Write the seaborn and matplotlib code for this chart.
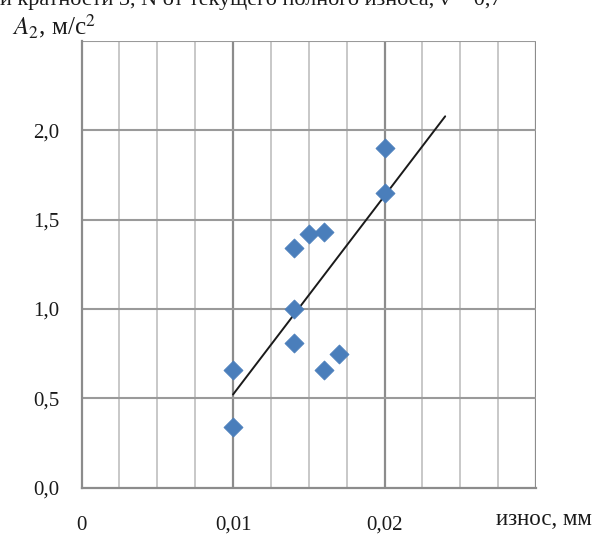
import numpy as np
import pandas as pd
import matplotlib
matplotlib.use("Agg")
import matplotlib.pyplot as plt
import seaborn as sns

# Measured wear (mm) and vibration acceleration amplitude A2 (m/s^2)
wear_mm = [0.010, 0.010, 0.014, 0.014, 0.014, 0.015, 0.016, 0.016, 0.017, 0.020, 0.020]
accel_a2 = [0.66, 0.34, 1.34, 1.00, 0.81, 1.42, 1.43, 0.66, 0.75, 1.90, 1.65]

x_ticks = [0.0, 0.01, 0.02, 0.03]
x_tick_labels = ["0", "0,01", "0,02", ""]
y_ticks = [0.0, 0.5, 1.0, 1.5, 2.0, 2.5]
y_tick_labels = ["0,0", "0,5", "1,0", "1,5", "2,0", ""]
trend_x_end = 0.024  # linear trend extended forward

df = pd.DataFrame({"wear": wear_mm, "a2": accel_a2})

sns.set_theme(style="white")
plt.rcParams["font.family"] = ["Liberation Serif", "DejaVu Serif"]

fig = plt.figure(figsize=(5.95, 5.36), dpi=100)
ax = fig.add_axes([0.137, 0.09, 0.764, 0.834])

ax.set_xlim(0, 0.03)
ax.set_ylim(0, 2.5)

# grid: minor verticals every 0.0025, major at 0.01
for xv in np.arange(0.0025, 0.0301, 0.0025):
    major = abs(xv / 0.01 - round(xv / 0.01)) < 1e-6
    ax.axvline(xv, color="#8c8c8c" if major else "#c4c4c4",
               lw=1.6 if major else 1.3, zorder=0)
for yv in y_ticks[1:]:
    ax.axhline(yv, color="#9a9a9a", lw=1.5, zorder=0)

# linear trend fitted to the data
k, b = np.polyfit(df["wear"], df["a2"], 1)
tx = np.array([min(wear_mm), trend_x_end])
sns.lineplot(x=tx, y=k * tx + b, ax=ax, color="#1a1a1a", lw=1.4, zorder=3)

sns.scatterplot(data=df, x="wear", y="a2", ax=ax, marker="D", s=95,
                color="#4a7ebb", edgecolor="#4a7ebb", linewidth=0.5, zorder=4)

ax.set_xticks(x_ticks)
ax.set_xticklabels(x_tick_labels)
ax.set_yticks(y_ticks)
ax.set_yticklabels(y_tick_labels)
ax.tick_params(axis="both", which="major", direction="out", length=6,
               width=1.5, color="#8c8c8c", labelsize=15, labelcolor="#1a1a1a")
ax.tick_params(axis="x", pad=14)
ax.tick_params(axis="y", pad=10)
ax.set_xlabel("")
ax.set_ylabel("")

for side in ["top", "right"]:
    ax.spines[side].set_visible(False)
for side in ["left", "bottom"]:
    ax.spines[side].set_color("#8c8c8c")
    ax.spines[side].set_linewidth(1.6)

# axis titles
fig.text(0.02, 0.925, r"$\mathbf{\mathit{A}}_{\mathit{2}}$, м/с$^{2}$", fontsize=18,
         color="#1a1a1a", ha="left", va="bottom",
         math_fontfamily="stix")
fig.text(0.995, 0.012, "износ, мм", fontsize=16.5, color="#1a1a1a",
         ha="right", va="bottom")

# tail of the caption line above the chart
fig.text(0.0, 1.0, "и кратности 3, N от текущего полного износа, ν = 0,7",
         fontsize=16, color="#1a1a1a", ha="left", va="center")

fig.savefig("out.png", dpi=100)
